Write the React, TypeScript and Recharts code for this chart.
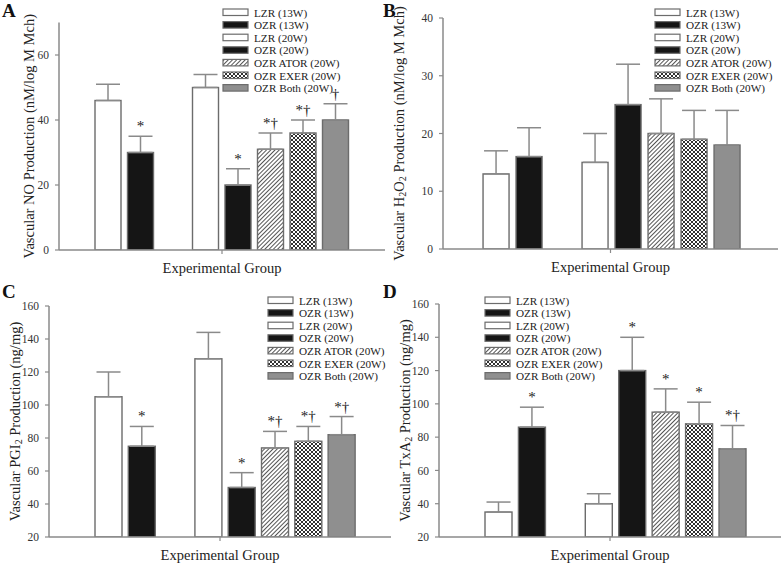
import React from "react";
import { BarChart, Bar, XAxis, YAxis, ErrorBar, Legend } from "recharts";

// groups shown in every panel, in drawing order
const groups = [
  "LZR (13W)",
  "OZR (13W)",
  "LZR (20W)",
  "OZR (20W)",
  "OZR ATOR (20W)",
  "OZR EXER (20W)",
  "OZR Both (20W)",
];

// Panel A - NO
const noValues = [46, 30, 50, 20, 31, 36, 40];
const noErrors = [5, 5, 4, 5, 5, 4, 5];
const noSig = ["", "*", "", "*", "*†", "*†", "†"];
const noTicks = [0, 20, 40, 60];

// Panel B - H2O2
const h2o2Values = [13, 16, 15, 25, 20, 19, 18];
const h2o2Errors = [4, 5, 5, 7, 6, 5, 6];
const h2o2Sig = ["", "", "", "", "", "", ""];
const h2o2Ticks = [0, 10, 20, 30, 40];

// Panel C - PGI2
const pgiValues = [105, 75, 128, 50, 74, 78, 82];
const pgiErrors = [15, 12, 16, 9, 10, 9, 11];
const pgiSig = ["", "*", "", "*", "*†", "*†", "*†"];
const pgiTicks = [20, 40, 60, 80, 100, 120, 140, 160];

// Panel D - TxA2
const txaValues = [35, 86, 40, 120, 95, 88, 73];
const txaErrors = [6, 12, 6, 20, 14, 13, 14];
const txaSig = ["", "*", "", "*", "*", "*", "*†"];
const txaTicks = [20, 40, 60, 80, 100, 120, 140, 160];

const FONT = "Liberation Serif, Times New Roman, serif";
const AXIS = "#8a8a8a";
const OUTLINE = "#6c6c6c";

const fillFor = (id: string, g: number) =>
  ["#ffffff", "#151515", "#ffffff", "#151515", `url(#${id}-hatch)`, `url(#${id}-cross)`, "#8f8f8f"][g];

// empty slot between the 13W and 20W groups
function buildRows(values: number[], errors: number[], sig: string[]) {
  const rows = values.map((v, i) => ({
    name: groups[i],
    g: i,
    value: v,
    err: [0, errors[i]],
    sig: sig[i],
  }));
  return [...rows.slice(0, 2), { name: "", g: -1 }, ...rows.slice(2)];
}

const Patterns = ({ id }: { id: string }) => (
  <defs>
    <pattern id={`${id}-hatch`} patternUnits="userSpaceOnUse" width={3} height={3} patternTransform="rotate(45)">
      <rect width={3} height={3} fill="#fff" />
      <line x1={0} y1={0} x2={0} y2={3} stroke="#1a1a1a" strokeWidth={1.5} />
    </pattern>
    <pattern id={`${id}-cross`} patternUnits="userSpaceOnUse" width={4} height={4}>
      <rect width={4} height={4} fill="#fff" />
      <path d="M0,0 L4,4 M4,0 L0,4" stroke="#1a1a1a" strokeWidth={0.9} />
    </pattern>
  </defs>
);

const makeShape = (id: string, domainMin: number) => (props: any) => {
  const { x, y, width, height, payload } = props;
  if (!payload || payload.g < 0 || payload.value == null) return <g />;
  const perUnit = height / (payload.value - domainMin);
  const errTop = y - payload.err[1] * perUnit;
  return (
    <g>
      <rect x={x} y={y} width={width} height={height} fill={fillFor(id, payload.g)} stroke={OUTLINE} strokeWidth={1.4} />
      {payload.sig ? (
        <text x={x + width / 2} y={errTop - 5} textAnchor="middle" fontSize={15} fill="#222" fontFamily={FONT}>
          {payload.sig}
        </text>
      ) : null}
    </g>
  );
};

const makeYLabel = (parts: React.ReactNode, dx: number) => (props: any) => {
  const vb = props.viewBox;
  const cx = vb.x + dx;
  const cy = vb.y + vb.height / 2;
  return (
    <text
      x={cx}
      y={cy}
      transform={`rotate(-90 ${cx} ${cy})`}
      textAnchor="middle"
      dominantBaseline="central"
      fontSize={14.5}
      fill="#222"
      fontFamily={FONT}
    >
      {parts}
    </text>
  );
};

const xLabel = (props: any) => {
  const vb = props.viewBox;
  const cx = vb.x + vb.width / 2;
  return (
    <g>
      <line x1={cx} y1={vb.y} x2={cx} y2={vb.y + 4} stroke={AXIS} strokeWidth={1.2} />
      <text x={cx} y={vb.y + 18} textAnchor="middle" dominantBaseline="central" fontSize={14.5} fill="#222" fontFamily={FONT}>
        Experimental Group
      </text>
    </g>
  );
};

const makeLegend = (id: string) => () => (
  <svg width={190} height={90}>
    {groups.map((name, i) => (
      <g key={name}>
        <rect x={1} y={3 + i * 12.6} width={25} height={6.5} fill={fillFor(id, i)} stroke={OUTLINE} strokeWidth={1.2} />
        <text x={32} y={6.5 + i * 12.6} dominantBaseline="central" fontSize={11.2} fill="#222" fontFamily={FONT}>
          {name}
        </text>
      </g>
    ))}
  </svg>
);

interface PanelProps {
  id: string;
  left: number;
  top: number;
  width: number;
  height: number;
  marginTop: number;
  marginRight: number;
  yWidth: number;
  xHeight: number;
  padL: number;
  padR: number;
  domain: [number, number];
  ticks: number[];
  values: number[];
  errors: number[];
  sig: string[];
  yLabel: React.ReactNode;
  yLabelDx: number;
  legendLeft: number;
  legendTop: number;
}

function Panel(p: PanelProps) {
  const rows = buildRows(p.values, p.errors, p.sig);
  return (
    <div style={{ position: "absolute", left: p.left, top: p.top }}>
      <BarChart
        width={p.width}
        height={p.height}
        data={rows}
        margin={{ top: p.marginTop, right: p.marginRight, bottom: 0, left: 0 }}
        barCategoryGap="10%"
      >
        <Patterns id={p.id} />
        <XAxis
          dataKey="name"
          tick={false}
          tickLine={false}
          axisLine={{ stroke: AXIS, strokeWidth: 1.5 }}
          height={p.xHeight}
          padding={{ left: p.padL, right: p.padR }}
          label={xLabel}
        />
        <YAxis
          type="number"
          domain={p.domain}
          ticks={p.ticks}
          interval={0}
          allowDataOverflow
          width={p.yWidth}
          tickSize={4}
          tickMargin={6}
          axisLine={{ stroke: AXIS, strokeWidth: 1.5 }}
          tickLine={{ stroke: AXIS, strokeWidth: 1.2 }}
          tick={{ fontSize: 11.5, fill: "#333", fontFamily: FONT }}
          label={makeYLabel(p.yLabel, p.yLabelDx)}
        />
        <Legend
          layout="vertical"
          align="center"
          verticalAlign="middle"
          wrapperStyle={{ left: p.legendLeft, top: p.legendTop, width: 190, height: 90 }}
          content={makeLegend(p.id)}
        />
        <Bar dataKey="value" shape={makeShape(p.id, p.domain[0])} isAnimationActive={false}>
          <ErrorBar dataKey="err" width={12} stroke={AXIS} strokeWidth={1.5} direction="y" />
        </Bar>
      </BarChart>
    </div>
  );
}

const sub = (s: string) => (
  <tspan dy={3} fontSize={10}>
    {s}
  </tspan>
);

export default function App() {
  return (
    <div
      style={{
        position: "absolute",
        left: 0,
        top: 0,
        width: 783,
        height: 564,
        background: "#fff",
        fontFamily: FONT,
      }}
    >
      <Panel
        id="a"
        left={0}
        top={0}
        width={390}
        height={280}
        marginTop={22.5}
        marginRight={5}
        yWidth={59}
        xHeight={30}
        padL={32.75}
        padR={33.25}
        domain={[0, 70]}
        ticks={noTicks}
        values={noValues}
        errors={noErrors}
        sig={noSig}
        yLabel="Vascular NO Production (nM/log M Mch)"
        yLabelDx={29}
        legendLeft={222}
        legendTop={6}
      />
      <Panel
        id="b"
        left={390}
        top={0}
        width={393}
        height={280}
        marginTop={18}
        marginRight={5}
        yWidth={53}
        xHeight={31}
        padL={36.75}
        padR={34.25}
        domain={[0, 40]}
        ticks={h2o2Ticks}
        values={h2o2Values}
        errors={h2o2Errors}
        sig={h2o2Sig}
        yLabel={
          <>
            <tspan>Vascular H</tspan>
            {sub("2")}
            <tspan dy={-3}>O</tspan>
            {sub("2")}
            <tspan dy={-3}> Production (nM/log M Mch)</tspan>
          </>
        }
        yLabelDx={9}
        legendLeft={264}
        legendTop={6}
      />
      <Panel
        id="c"
        left={0}
        top={280}
        width={392}
        height={284}
        marginTop={26}
        marginRight={1}
        yWidth={49}
        xHeight={27}
        padL={42.67}
        padR={32.9}
        domain={[20, 160]}
        ticks={pgiTicks}
        values={pgiValues}
        errors={pgiErrors}
        sig={pgiSig}
        yLabel={
          <>
            <tspan>Vascular PGI</tspan>
            {sub("2")}
            <tspan dy={-3}> Production (ng/mg)</tspan>
          </>
        }
        yLabelDx={15}
        legendLeft={267}
        legendTop={14}
      />
      <Panel
        id="d"
        left={390}
        top={280}
        width={393}
        height={284}
        marginTop={24}
        marginRight={2}
        yWidth={49}
        xHeight={27}
        padL={42.66}
        padR={31.9}
        domain={[20, 160]}
        ticks={txaTicks}
        values={txaValues}
        errors={txaErrors}
        sig={txaSig}
        yLabel={
          <>
            <tspan>Vascular TxA</tspan>
            {sub("2")}
            <tspan dy={-3}> Production (ng/mg)</tspan>
          </>
        }
        yLabelDx={15}
        legendLeft={94}
        legendTop={14}
      />
      <svg width={783} height={564} style={{ position: "absolute", left: 0, top: 0, pointerEvents: "none" }}>
        <text x={2} y={17} fontSize={19} fontWeight="bold" fontFamily={FONT} fill="#111">A</text>
        <text x={383} y={17} fontSize={19} fontWeight="bold" fontFamily={FONT} fill="#111">B</text>
        <text x={2} y={298} fontSize={19} fontWeight="bold" fontFamily={FONT} fill="#111">C</text>
        <text x={383} y={298} fontSize={19} fontWeight="bold" fontFamily={FONT} fill="#111">D</text>
      </svg>
    </div>
  );
}
